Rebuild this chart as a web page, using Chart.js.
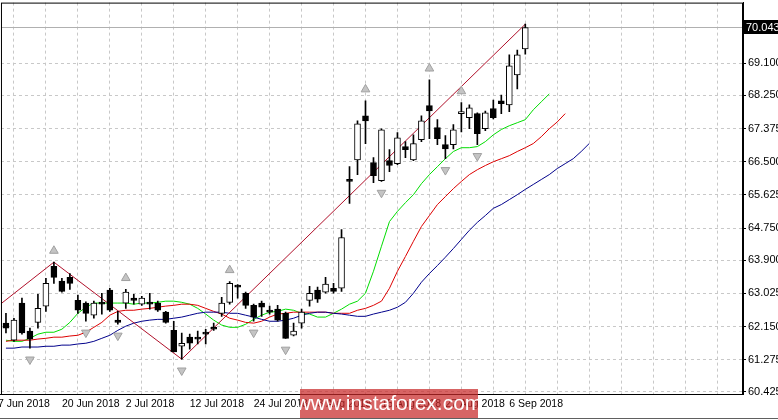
<!DOCTYPE html>
<html>
<head>
<meta charset="utf-8">
<script src="https://cdn.jsdelivr.net/npm/chart.js@4.4.1/dist/chart.umd.min.js"></script>
<style>
  html, body { margin: 0; padding: 0; background: #fff; overflow: hidden; }
  #chart { position: absolute; left: -6px; top: -6px; }
</style>
</head>
<body>
<canvas id="chart" width="784" height="426"></canvas>
<script>
// daily candles, bar 0 .. 65
const opens  = [62.24,61.79,62.77,62.03,62.26,62.69,63.74,63.35,63.45,62.84,62.77,62.45,62.77,63.11,62.32,62.77,62.90,62.74,62.79,62.77,62.53,62.05,61.63,61.87,61.85,62.00,62.13,62.50,62.79,63.24,63.03,62.71,62.77,62.58,62.61,62.50,61.92,62.24,62.84,63.11,63.06,63.16,63.16,66.03,66.55,67.71,66.48,66.00,66.53,66.45,66.90,66.55,67.08,67.98,67.40,66.95,66.95,67.77,67.66,67.77,67.37,67.90,68.11,68.00,68.79,69.48];
const highs  = [62.50,62.37,62.90,62.11,63.00,63.42,63.85,63.42,63.55,62.98,62.80,62.82,63.03,63.16,62.55,63.13,63.00,62.95,63.03,62.82,62.55,62.29,61.98,61.95,62.03,62.08,62.24,62.92,63.34,63.26,63.06,62.74,62.82,62.69,62.71,62.53,62.24,62.61,63.21,63.19,63.45,63.29,64.71,66.37,67.58,68.11,66.61,67.37,66.82,67.27,67.03,67.21,67.71,68.66,67.61,67.19,67.48,68.06,68.00,67.79,67.84,68.13,68.26,69.32,69.45,70.13];
const lows   = [61.98,61.76,61.95,61.58,62.11,62.55,63.29,63.06,63.13,62.50,62.29,62.37,62.48,62.55,62.21,62.63,62.74,62.71,62.61,62.55,62.24,61.48,61.29,61.55,61.69,61.69,62.05,62.42,62.74,62.90,62.63,62.29,62.42,62.48,62.29,61.84,61.90,62.11,62.69,62.79,63.03,63.03,63.08,65.40,66.16,66.98,65.95,65.98,66.24,66.42,66.61,66.53,67.03,67.11,66.95,66.58,66.84,67.29,67.37,66.95,67.32,67.63,67.77,67.82,68.42,69.34];
const closes = [62.11,62.32,61.98,61.82,62.63,63.29,63.45,63.08,63.29,62.58,62.50,62.77,62.74,62.58,62.26,63.06,62.84,62.90,62.74,62.58,62.26,61.48,61.71,61.71,61.82,61.95,62.08,62.77,63.29,63.19,62.71,62.40,62.66,62.53,62.32,61.84,62.03,62.53,63.03,62.87,63.27,63.08,64.50,65.98,67.50,67.58,66.13,67.34,66.40,67.13,66.82,66.98,67.58,67.84,67.11,66.84,67.34,67.82,67.92,67.24,67.79,67.66,68.03,69.03,69.32,70.04];

// alligator lines (already shifted forward)
const lips  = [61.79,61.76,61.76,61.84,61.95,62.00,62.00,62.08,62.26,62.50,62.66,62.77,62.77,62.77,62.77,62.77,62.74,62.77,62.77,62.79,62.82,62.82,62.79,62.74,62.63,62.48,62.32,62.19,62.13,62.13,62.21,62.34,62.45,62.53,62.55,62.61,62.58,62.50,62.48,62.40,62.40,62.50,62.61,62.74,62.82,63.03,63.61,64.27,64.92,65.19,65.42,65.63,65.92,66.16,66.37,66.58,66.77,66.87,66.87,66.90,67.03,67.21,67.35,67.45,67.53,67.61,67.87,68.08,68.29];
const teeth = [61.76,61.79,61.79,61.79,61.82,61.84,61.87,61.87,61.90,61.92,62.00,62.13,62.26,62.45,62.55,62.58,62.58,62.61,62.63,62.66,62.69,62.71,62.74,62.74,62.71,62.63,62.55,62.48,62.37,62.32,62.26,62.24,62.29,62.40,62.48,62.50,62.53,62.53,62.53,62.53,62.53,62.50,62.50,62.50,62.58,62.63,62.71,62.82,63.16,63.61,64.00,64.40,64.79,65.08,65.37,65.58,65.79,65.98,66.16,66.29,66.40,66.50,66.58,66.66,66.77,66.87,66.98,67.16,67.37,67.55,67.77];
const jaw   = [61.58,61.58,61.61,61.61,61.61,61.63,61.63,61.66,61.66,61.69,61.71,61.76,61.84,61.92,62.05,62.16,62.24,62.29,62.32,62.34,62.34,62.37,62.40,62.45,62.50,62.53,62.53,62.53,62.50,62.50,62.45,62.40,62.34,62.29,62.29,62.32,62.37,62.45,62.50,62.53,62.53,62.50,62.48,62.45,62.42,62.42,62.48,62.53,62.58,62.66,62.79,63.03,63.32,63.55,63.76,63.98,64.21,64.45,64.69,64.90,65.08,65.27,65.37,65.50,65.63,65.77,65.90,66.03,66.16,66.32,66.45,66.58,66.77,66.98];

// zigzag pivots
const zigIdx   = [-1, 6, 22, 65];
const zigPrice = [62.69, 63.85, 61.29, 70.13];

// fractals
const upFractals   = [6, 15, 28, 45, 53, 57];
const downFractals = [3, 10, 14, 22, 31, 35, 47, 55, 59];

// axis labels
const priceTicks = [60.425, 61.275, 62.150, 63.025, 63.900, 64.750, 65.625, 66.500, 67.375, 68.250, 69.100];
const lastPrice = 70.043;
const dateLabels = { "-1": "7 Jun 2018", "7": "20 Jun 2018", "15": "2 Jul 2018", "23": "12 Jul 2018", "31": "24 Jul 2018",
  "39": "3 Aug 2018", "47": "15 Aug 2018", "55": "27 Aug 2018", "63": "6 Sep 2018" };

const FONT = "'Liberation Sans', Arial, sans-serif";
const SHIFT = 6; // canvas is moved up-left by this much

const bodies = opens.map((o, i) => ({ x: i, y: [o, closes[i]] }));
const wicks = highs.map((h, i) => ({ x: i, y: [lows[i], h] }));
const bodyFill = opens.map((o, i) => closes[i] >= o ? "#ffffff" : "#000000");
const lineData = arr => arr.map((v, i) => ({ x: i, y: v }));

const overlay = {
  id: "overlay",
  beforeDatasetsDraw(chart) {
    const { ctx, chartArea: a, scales: { y } } = chart;
    const py = y.getPixelForValue(lastPrice);
    ctx.save();
    ctx.strokeStyle = "#b0b0b0";
    ctx.lineWidth = 1;
    ctx.beginPath();
    ctx.moveTo(a.left, Math.round(py) + 0.5);
    ctx.lineTo(a.right, Math.round(py) + 0.5);
    ctx.stroke();
    ctx.restore();
  },
  afterDraw(chart) {
    const { ctx, chartArea: a, scales: { y } } = chart;
    ctx.save();
    ctx.globalAlpha = 1;
    ctx.setLineDash([]);
    ctx.strokeStyle = "#000";
    ctx.lineWidth = 1;
    ctx.strokeRect(a.left + 0.5, a.top + 0.5, a.right - a.left - 1, a.bottom - a.top);
    const py = Math.round(y.getPixelForValue(lastPrice));
    ctx.fillStyle = "#000000";
    ctx.fillRect(Math.round(a.right) + 1, py - 7, 35, 14);
    ctx.fillStyle = "#ffffff";
    ctx.font = "11px " + FONT;
    ctx.textAlign = "left";
    ctx.textBaseline = "middle";
    ctx.fillText(lastPrice.toFixed(3), a.right + 3, py + 1);
    ctx.translate(SHIFT, SHIFT);
    ctx.fillStyle = "rgba(200,40,40,0.72)";
    ctx.fillRect(300, 389, 178, 29);
    ctx.fillStyle = "#fff";
    ctx.font = "21px " + FONT;
    ctx.textAlign = "center";
    ctx.fillText("www.instaforex.com", 389, 404);
    ctx.strokeStyle = "#606060";
    ctx.beginPath();
    ctx.moveTo(0, 418.5);
    ctx.lineTo(778, 418.5);
    ctx.stroke();
    ctx.restore();
  }
};

new Chart(document.getElementById("chart"), {
  data: {
    datasets: [
      { type: "line", data: lineData(jaw), borderColor: "#00008b", borderWidth: 1, pointRadius: 0, order: 5 },
      { type: "line", data: lineData(teeth), borderColor: "#dd0000", borderWidth: 1, pointRadius: 0, order: 5 },
      { type: "line", data: lineData(lips), borderColor: "#00dd00", borderWidth: 1, pointRadius: 0, order: 5 },
      { type: "line", data: zigIdx.map((x, i) => ({ x, y: zigPrice[i] })), borderColor: "#b0102a", borderWidth: 1, pointRadius: 0, order: 4 },
      { type: "bar", data: wicks, backgroundColor: "#000", barThickness: 1, grouped: false, order: 3 },
      { type: "bar", data: bodies, backgroundColor: bodyFill, borderColor: "#000", borderWidth: 1, borderSkipped: false,
        barThickness: 6, minBarLength: 2, grouped: false, order: 2 },
      { type: "scatter", data: upFractals.map(i => ({ x: i, y: highs[i] + 0.3 })), pointStyle: "triangle",
        pointRadius: 5, backgroundColor: "#c4c4c4", borderColor: "#a0a0a0", borderWidth: 1, order: 1 },
      { type: "scatter", data: downFractals.map(i => ({ x: i, y: lows[i] - 0.3 })), pointStyle: "triangle", rotation: 180,
        pointRadius: 5, backgroundColor: "#c4c4c4", borderColor: "#a0a0a0", borderWidth: 1, order: 1 }
    ]
  },
  options: {
    responsive: false,
    animation: false,
    devicePixelRatio: 1,
    layout: { padding: { top: 2, left: 0, right: 0, bottom: 0 } },
    plugins: { legend: { display: false }, tooltip: { enabled: false } },
    scales: {
      x: {
        type: "linear", min: -0.625, max: 92.25, offset: false,
        afterBuildTicks: s => { const t = []; for (let v = -1; v <= 92; v += 4) t.push({ value: v }); s.ticks = t; },
        afterFit: s => { s.height = 26; },
        grid: { color: "#c8c8c8", drawTicks: false },
        border: { display: true, color: "#000", dash: [3, 3] },
        ticks: {
          autoSkip: false, maxRotation: 0, align: "start", padding: 4,
          color: "#000", font: { family: FONT, size: 10.5 },
          callback: v => dateLabels[String(v)] || ""
        }
      },
      y: {
        position: "right", min: 60.37, max: 70.7,
        afterBuildTicks: s => { s.ticks = priceTicks.map(v => ({ value: v })); },
        afterFit: s => { s.width = 35; },
        grid: { color: "#c8c8c8", tickLength: 3, tickColor: "#000" },
        border: { display: true, color: "#000", dash: [3, 3] },
        ticks: { padding: 2, color: "#000", font: { family: FONT, size: 11 }, callback: v => v.toFixed(3) }
      }
    }
  },
  plugins: [overlay]
});
</script>
</body>
</html>
